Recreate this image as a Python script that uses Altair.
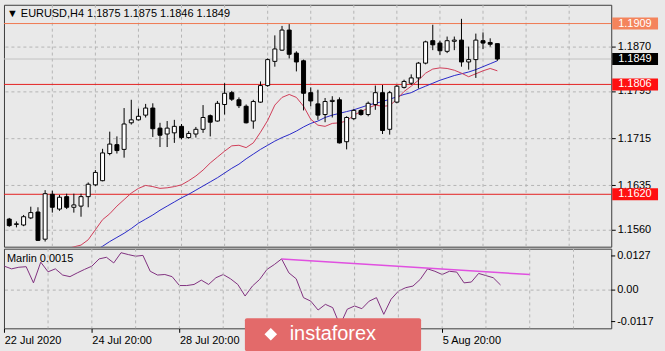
import altair as alt
import pandas as pd

# ---------------- data ----------------
bar_index = list(range(69))
opens  = [1.1578,1.1569,1.1568,1.1580,1.1590,1.1544,1.1620,1.1595,1.1616,1.1598,
          1.1600,1.1616,1.1636,1.1643,1.1689,1.1704,1.1696,1.1741,1.1746,1.1754,
          1.1766,1.1732,1.1722,1.1724,1.1735,1.1716,1.1722,1.1730,1.1753,1.1744,
          1.1772,1.1792,1.1780,1.1769,1.1744,1.1776,1.1804,1.1845,1.1864,1.1898,
          1.1859,1.1846,1.1792,1.1773,1.1755,1.1777,1.1780,1.1709,1.1748,1.1762,
          1.1755,1.1772,1.1792,1.1730,1.1776,1.1801,1.1808,1.1817,1.1842,1.1880,
          1.1876,1.1862,1.1879,1.1881,1.1844,1.1848,1.1880,1.1877,1.1875]
highs  = [1.1580,1.1574,1.1585,1.1599,1.1598,1.1627,1.1626,1.1619,1.1621,1.1621,
          1.1621,1.1640,1.1661,1.1697,1.1726,1.1718,1.1766,1.1780,1.1765,1.1773,
          1.1774,1.1741,1.1744,1.1746,1.1739,1.1727,1.1734,1.1771,1.1755,1.1778,
          1.1808,1.1795,1.1784,1.1772,1.1780,1.1811,1.1850,1.1889,1.1905,1.1908,
          1.1862,1.1848,1.1801,1.1797,1.1783,1.1786,1.1784,1.1752,1.1764,1.1764,
          1.1777,1.1804,1.1805,1.1795,1.1805,1.1814,1.1823,1.1844,1.1880,1.1907,
          1.1880,1.1887,1.1887,1.1917,1.1870,1.1892,1.1894,1.1884,1.1875]
lows   = [1.1565,1.1564,1.1566,1.1578,1.1541,1.1540,1.1589,1.1592,1.1595,1.1589,
          1.1582,1.1598,1.1634,1.1642,1.1686,1.1689,1.1682,1.1738,1.1745,1.1750,
          1.1717,1.1700,1.1700,1.1707,1.1713,1.1714,1.1716,1.1724,1.1718,1.1743,
          1.1755,1.1778,1.1766,1.1740,1.1731,1.1775,1.1802,1.1836,1.1863,1.1850,
          1.1828,1.1762,1.1769,1.1746,1.1742,1.1750,1.1706,1.1696,1.1746,1.1753,
          1.1752,1.1763,1.1722,1.1721,1.1774,1.1799,1.1805,1.1799,1.1840,1.1864,
          1.1856,1.1859,1.1864,1.1836,1.1831,1.1817,1.1866,1.1870,1.1846]
closes = [1.1567,1.1570,1.1582,1.1589,1.1542,1.1621,1.1598,1.1615,1.1598,1.1602,
          1.1616,1.1637,1.1657,1.1690,1.1705,1.1694,1.1739,1.1746,1.1752,1.1766,
          1.1731,1.1720,1.1732,1.1735,1.1716,1.1723,1.1730,1.1750,1.1742,1.1774,
          1.1791,1.1781,1.1770,1.1741,1.1777,1.1804,1.1848,1.1866,1.1898,1.1857,
          1.1844,1.1791,1.1778,1.1754,1.1777,1.1779,1.1707,1.1750,1.1762,1.1755,
          1.1774,1.1792,1.1728,1.1792,1.1803,1.1811,1.1817,1.1842,1.1878,1.1873,
          1.1863,1.1880,1.1881,1.1844,1.1848,1.1881,1.1876,1.1874,1.1849]

fast_ma_index = list(range(8, 69))
fast_ma = [1.1528,1.1531,1.1534,1.1543,1.1560,1.1577,1.1587,1.1600,1.1611,1.1622,
           1.1630,1.1635,1.1633,1.1630,1.1631,1.1633,1.1636,1.1643,1.1651,1.1661,
           1.1673,1.1683,1.1693,1.1702,1.1703,1.1699,1.1707,1.1725,1.1745,1.1771,
           1.1784,1.1789,1.1784,1.1769,1.1747,1.1737,1.1735,1.1740,1.1741,1.1744,
           1.1754,1.1760,1.1766,1.1771,1.1769,1.1770,1.1781,1.1794,1.1803,1.1813,
           1.1825,1.1832,1.1834,1.1833,1.1830,1.1825,1.1819,1.1824,1.1829,1.1833,
           1.1829]

slow_ma_index = list(range(12, 69))
slow_ma = [1.1525,1.1532,1.1540,1.1547,1.1554,1.1562,1.1571,1.1578,1.1585,1.1593,
           1.1600,1.1607,1.1614,1.1620,1.1627,1.1634,1.1641,1.1648,1.1656,1.1664,
           1.1671,1.1680,1.1688,1.1696,1.1703,1.1710,1.1716,1.1721,1.1727,1.1734,
           1.1740,1.1744,1.1750,1.1754,1.1757,1.1760,1.1763,1.1767,1.1771,1.1774,
           1.1777,1.1781,1.1785,1.1789,1.1792,1.1798,1.1803,1.1808,1.1813,1.1817,
           1.1821,1.1824,1.1827,1.1831,1.1836,1.1841,1.1846]

marlin = [0.0089,0.0079,0.0085,0.0087,0.0027,0.0104,0.0068,0.0079,0.0056,0.0050,
          0.0064,0.0077,0.0089,0.0116,0.0122,0.0101,0.0139,0.0132,0.0126,0.0129,
          0.0070,0.0056,0.0058,0.0050,0.0017,0.0017,0.0021,0.0037,0.0021,0.0046,
          0.0058,0.0042,0.0021,-0.0022,0.0015,0.0040,0.0077,0.0095,0.0116,0.0064,
          0.0042,-0.0028,-0.0041,-0.0074,-0.0053,-0.0065,-0.0131,-0.0071,-0.0059,-0.0069,
          -0.0041,-0.0028,-0.0090,-0.0034,-0.0004,0.0009,0.0015,0.0040,0.0079,0.0070,
          0.0058,0.0070,0.0067,0.0027,0.0030,0.0062,0.0054,0.0046,0.0019]

trend_index = [38, 72]
trend_value = [0.0116, 0.0058]

level_prices = [1.1909, 1.1806, 1.1620]
level_line_colors = ["#f07850", "#e42020", "#e42020"]
level_box_colors = ["#f4845c", "#ff1010", "#ff1010"]
last_price = 1.1849

price_ticks = [1.1870, 1.1795, 1.1715, 1.1635, 1.1560]
marlin_ticks = [0.0127, 0.0, -0.0117]
marlin_tick_labels = ["0.0127", "0.00", "-0.0117"]
time_tick_index = [0, 12, 24, 36, 48, 60]
time_tick_labels = ["22 Jul 2020", "24 Jul 20:00", "28 Jul 20:00",
                    "30 Jul 20:00", "3 Aug 20:00", "5 Aug 20:00"]
grid_index = list(range(6, 84, 6))

header_text = "\u25BC EURUSD,H4  1.1875 1.1875 1.1846 1.1849"
marlin_text = "Marlin 0.0015"

# ---------------- tables ----------------
candles = pd.DataFrame({"i": bar_index, "open": opens, "high": highs,
                        "low": lows, "close": closes})
fast_df = pd.DataFrame({"i": fast_ma_index, "v": fast_ma})
slow_df = pd.DataFrame({"i": slow_ma_index, "v": slow_ma})
marlin_df = pd.DataFrame({"i": bar_index, "v": marlin})
trend_df = pd.DataFrame({"i": trend_index, "v": trend_value})
levels_df = pd.DataFrame({"price": level_prices, "line": level_line_colors,
                          "box": level_box_colors,
                          "label": [f"{p:.4f}" for p in level_prices]})
last_df = pd.DataFrame({"price": [last_price], "label": [f"{last_price:.4f}"]})
grid_df = pd.DataFrame({"i": grid_index})
mtick_df = pd.DataFrame({"v": marlin_ticks, "label": marlin_tick_labels})
zero_df = pd.DataFrame({"v": [0.0]})

FONT = "Liberation Sans"
BG = "#e9e9e9"
W = 610
H_TOP = 243
H_BOT = 80

xscale = alt.Scale(domain=[-0.04, 83.17], nice=False, zero=False)
pscale = alt.Scale(domain=[1.15313, 1.19408], nice=False, zero=False)
mscale = alt.Scale(domain=[-0.0142, 0.0154], nice=False, zero=False)

X_top = alt.X("i:Q", scale=xscale, axis=None)

price_axis = alt.Axis(orient="right", values=price_ticks, format=".4f", title=None,
                      grid=True, gridDash=[3, 3], gridColor="#b4b4b4",
                      domain=False, ticks=True, tickSize=4, tickColor="#000",
                      labelFontSize=11, labelFont=FONT, labelColor="#000",
                      labelPadding=2, labelOverlap=False, labelFlush=False)

price_frame = alt.Chart(levels_df).mark_rule(opacity=0).encode(
    x=X_top, y=alt.Y("price:Q", scale=pscale, axis=price_axis))

vgrid_top = alt.Chart(grid_df).mark_rule(color="#b4b4b4", strokeDash=[3, 3]).encode(
    x=X_top)

bid_line = alt.Chart(last_df).mark_rule(color="#c2c2c2", strokeWidth=1).encode(
    y=alt.Y("price:Q", scale=pscale))

level_lines = alt.Chart(levels_df).mark_rule(strokeWidth=1).encode(
    y=alt.Y("price:Q", scale=pscale),
    color=alt.Color("line:N", scale=None))

fast_line = alt.Chart(fast_df).mark_line(color="#d03c58", strokeWidth=1, clip=True).encode(
    x=X_top, y=alt.Y("v:Q", scale=pscale))
slow_line = alt.Chart(slow_df).mark_line(color="#2828c8", strokeWidth=1, clip=True).encode(
    x=X_top, y=alt.Y("v:Q", scale=pscale))

wicks = alt.Chart(candles).mark_rule(color="#000", strokeWidth=1).encode(
    x=X_top, y=alt.Y("low:Q", scale=pscale), y2="high:Q")
bodies = alt.Chart(candles).mark_bar(size=4, stroke="#000", strokeWidth=1).encode(
    x=X_top, y=alt.Y("open:Q", scale=pscale), y2="close:Q",
    fill=alt.condition("datum.close >= datum.open", alt.value("#ffffff"), alt.value("#000000")))

level_boxes = alt.Chart(levels_df).mark_rule(strokeWidth=12, strokeCap="butt").encode(
    x=alt.value(W + 1), x2=alt.value(W + 47),
    y=alt.Y("price:Q", scale=pscale),
    color=alt.Color("box:N", scale=None))
level_texts = alt.Chart(levels_df).mark_text(
    align="left", baseline="middle", fontSize=11, font=FONT, color="#ffffff").encode(
    x=alt.value(W + 7), y=alt.Y("price:Q", scale=pscale), text="label:N")
last_box = alt.Chart(last_df).mark_rule(strokeWidth=12, strokeCap="butt", color="#000").encode(
    x=alt.value(W + 1), x2=alt.value(W + 47), y=alt.Y("price:Q", scale=pscale))
last_text = alt.Chart(last_df).mark_text(
    align="left", baseline="middle", fontSize=11, font=FONT, color="#ffffff").encode(
    x=alt.value(W + 7), y=alt.Y("price:Q", scale=pscale), text="label:N")

header = alt.Chart(pd.DataFrame({"t": [header_text]})).mark_text(
    align="left", baseline="middle", fontSize=11, font=FONT, color="#000").encode(
    x=alt.value(3), y=alt.value(9), text="t:N")

top = alt.layer(price_frame, vgrid_top, bid_line, level_lines, slow_line, fast_line,
                wicks, bodies, level_boxes, level_texts, last_box, last_text, header
                ).properties(width=W, height=H_TOP)

# ---------------- bottom (Marlin) panel ----------------
time_expr = ("[" + ",".join(f"'{s}'" for s in time_tick_labels) + "][indexof(["
             + ",".join(str(v) for v in time_tick_index) + "], datum.value)]")

X_bot = alt.X("i:Q", scale=xscale,
              axis=alt.Axis(values=time_tick_index, labelExpr=time_expr, title=None,
                            grid=False, domain=False, ticks=True, tickSize=4,
                            tickColor="#000", labelAlign="left", labelPadding=2,
                            labelFontSize=11, labelFont=FONT, labelColor="#000",
                            labelOverlap=False, labelFlush=False, labelBound=False))

marlin_line = alt.Chart(marlin_df).mark_line(color="#80307f", strokeWidth=1, clip=True).encode(
    x=X_bot, y=alt.Y("v:Q", scale=mscale, axis=None))
vgrid_bot = alt.Chart(grid_df).mark_rule(color="#b4b4b4", strokeDash=[3, 3]).encode(
    x=alt.X("i:Q", scale=xscale))
zero_line = alt.Chart(zero_df).mark_rule(color="#b4b4b4", strokeDash=[3, 3]).encode(
    y=alt.Y("v:Q", scale=mscale))
# right-hand scale of the Marlin window: ticks and labels drawn through the scale
mticks = alt.Chart(mtick_df).mark_rule(color="#000", strokeWidth=1).encode(
    x=alt.value(W), x2=alt.value(W + 4), y=alt.Y("v:Q", scale=mscale))
mlabels = alt.Chart(mtick_df).mark_text(
    align="left", baseline="middle", fontSize=11, font=FONT, color="#000").encode(
    x=alt.value(W + 6), y=alt.Y("v:Q", scale=mscale), text="label:N")
trend_line = alt.Chart(trend_df).mark_line(color="#e050e0", strokeWidth=1.5).encode(
    x=alt.X("i:Q", scale=xscale), y=alt.Y("v:Q", scale=mscale))
marlin_label = alt.Chart(pd.DataFrame({"t": [marlin_text]})).mark_text(
    align="left", baseline="middle", fontSize=11, font=FONT, color="#000").encode(
    x=alt.value(3), y=alt.value(10), text="t:N")

wm_box = alt.Chart(pd.DataFrame({"a": [0]})).mark_rect(color="#e36a6a", cornerRadius=2).encode(
    x=alt.value(242), x2=alt.value(419), y=alt.value(70), y2=alt.value(103))
wm_icon = alt.Chart(pd.DataFrame({"a": [0]})).mark_point(
    shape="diamond", filled=True, color="#ffffff", size=160, opacity=1).encode(
    x=alt.value(268), y=alt.value(86))
wm_text = alt.Chart(pd.DataFrame({"t": ["instaforex"]})).mark_text(
    align="left", baseline="middle", fontSize=20, font=FONT, color="#ffffff").encode(
    x=alt.value(287), y=alt.value(86), text="t:N")

bottom = alt.layer(marlin_line, vgrid_bot, zero_line, mticks, mlabels, trend_line,
                   marlin_label, wm_box, wm_icon, wm_text).properties(width=W, height=H_BOT)

chart = alt.vconcat(top, bottom, spacing=0).properties(
    padding={"left": 3, "top": 3, "right": 0, "bottom": 0},
    background=BG
).configure_view(stroke="#3c3c3c", strokeWidth=1, fill=BG)

chart.save("out.html", embed_options={"renderer": "svg", "actions": False})
